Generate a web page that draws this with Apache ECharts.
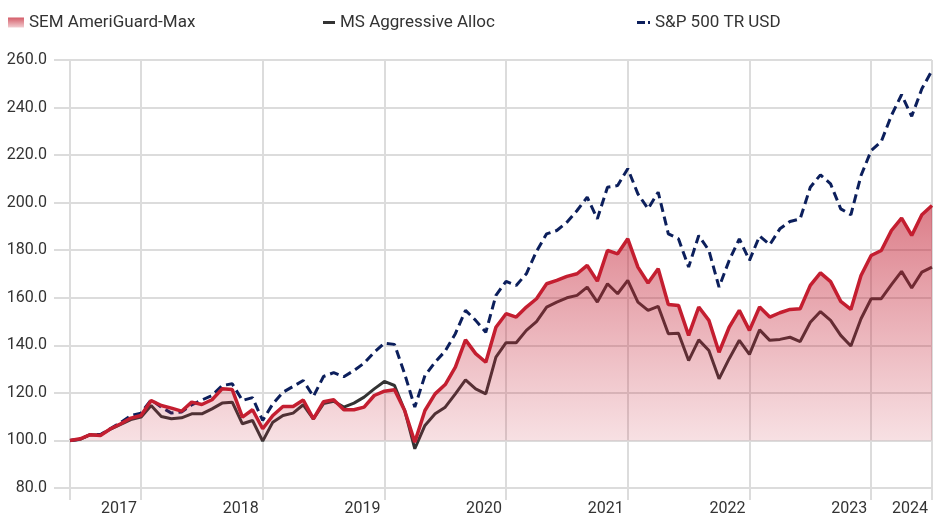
<!DOCTYPE html>
<html>
<head>
<meta charset="utf-8">
<script src="https://cdn.jsdelivr.net/npm/echarts@6/dist/echarts.min.js"></script>
<style>
  html, body { margin: 0; padding: 0; background: #fff; }
  #chart { width: 939px; height: 518px; }
</style>
</head>
<body>
<div id="chart"></div>
<script>
// monthly points, May 2017 .. Jun 2024 (growth of 100)
const startYear = 2017
const startMonth = 5
const semValues = [
  100, 100.7, 102.4, 102.1, 104.9, 107, 109.4, 110.5, 116.8, 114.7,
  113.6, 112.3, 116.1, 115.1, 117.1, 121.7, 121.4, 109.8, 112.9, 104.9,
  110.5, 114.3, 114.3, 117, 109.1, 116.3, 117.1, 112.9, 112.9, 114,
  118.9, 120.7, 121.3, 112.6, 99.3, 112.6, 119.6, 123.5, 130.8, 142.3,
  136.5, 132.9, 147.6, 153.3, 151.9, 156.1, 159.6, 165.9, 167.3, 169,
  170.1, 173.6, 167, 179.9, 178.5, 184.8, 172.9, 166.2, 172.2, 157.2,
  156.8, 144.2, 156.1, 150.5, 137.1, 147.6, 154.7, 146.3, 156.1, 151.9,
  153.7, 155.1, 155.4, 165.2, 170.5, 166.8, 158.5, 155.1, 169.4, 177.8,
  179.9, 188.3, 193.5, 186.2, 194.9, 198.8
]
const msValues = [
  100, 100.5, 102.4, 102.3, 104.8, 106.8, 108.8, 109.8, 114.7, 110.1,
  109.1, 109.5, 111.2, 111.2, 113.3, 115.7, 116.1, 107, 108.4, 99.7,
  107.7, 110.5, 111.5, 115, 109, 115.5, 116.5, 114, 115.7, 118.2,
  121.7, 124.8, 123.1, 112.6, 96.5, 106.3, 111.2, 114, 119.6, 125.5,
  121.7, 119.6, 135, 141.1, 141.1, 146.3, 150, 156.1, 158.2, 160,
  161, 164.5, 158.2, 165.9, 161.7, 167.3, 158.2, 154.7, 156.4, 144.9,
  145.1, 133.6, 142.3, 137.8, 125.9, 134.4, 142.1, 136.2, 146.5, 142.1,
  142.5, 143.4, 141.6, 149.7, 154.2, 150.5, 144.2, 139.7, 151.2, 159.6,
  159.6, 165.5, 171.1, 164.1, 170.8, 172.9
]
const spValues = [
  100, 100.5, 102.5, 102.5, 105, 107.5, 110.5, 111.5, 117.1, 114,
  111.5, 112, 115, 117, 118.9, 123.1, 123.8, 116.8, 118, 108.4,
  115.4, 120.3, 122.7, 125.2, 118.5, 126.9, 128.5, 126.8, 129.4, 132.5,
  137.1, 140.9, 140.4, 128, 114, 127.3, 132.9, 137.6, 144.9, 154.7,
  150.5, 145.5, 161, 166.9, 165.2, 170.1, 179.5, 186.9, 188.3, 191.8,
  196.7, 202.3, 193.2, 206.5, 207.2, 214.3, 203.7, 197.4, 204.4, 186.9,
  184.8, 172.9, 186.2, 179.9, 164.5, 175.7, 184.8, 175.7, 186, 182.3,
  189, 192.1, 193.2, 206.5, 211.7, 207.9, 197.4, 194.9, 211.4, 221.9,
  225.7, 236.7, 245.4, 236.3, 247.9, 255.6
]
const seriesNames = ['SEM AmeriGuard-Max', 'MS Aggressive Alloc', 'S&P 500 TR USD']
const yTicks = { min: 80, max: 260, step: 20 }

const months = semValues.map((v, i) => {
  const m = startMonth - 1 + i
  return (startYear + Math.floor(m / 12)) + '-' + String(m % 12 + 1).padStart(2, '0')
})
const lastIdx = months.length - 1
// year boundaries (December), plus first and last point
const isYearMark = (i) => i === 0 || i === lastIdx || months[i].slice(5) === '12'

const font = 'Roboto, "Liberation Sans", sans-serif'
const gridGray = '#dcdcdc'

const chart = echarts.init(document.getElementById('chart'))
chart.setOption({
  animation: false,
  backgroundColor: '#fff',
  textStyle: { fontFamily: font },
  legend: [
    {
      left: 8, top: 14, padding: 0, itemWidth: 16, itemHeight: 10,
      textStyle: { fontSize: 17, color: '#333', fontFamily: font },
      data: [{
        name: seriesNames[0], icon: 'rect',
        itemStyle: { color: new echarts.graphic.LinearGradient(0, 0, 0, 1, [
          { offset: 0, color: '#d45c68' }, { offset: 1, color: '#f2cdd1' }]) }
      }]
    },
    {
      left: 323, top: 14, padding: 0, itemWidth: 12, itemHeight: 3,
      textStyle: { fontSize: 17, color: '#333', fontFamily: font },
      data: [{ name: seriesNames[1], icon: 'rect', itemStyle: { color: '#333' } }]
    },
    {
      left: 637, top: 14, padding: 0, itemWidth: 13, itemHeight: 3,
      textStyle: { fontSize: 17, color: '#333', fontFamily: font },
      data: [{ name: seriesNames[2], icon: 'path://M0,0H8V3H0ZM11,0H13V3H11Z', itemStyle: { color: '#0c1f5c' } }]
    }
  ],
  grid: [
    { left: 54, right: 7, top: 60, bottom: 30 },
    { left: 70, right: 7, top: 60, bottom: 30 }
  ],
  xAxis: [
    { gridIndex: 0, type: 'value', show: false, min: 0, max: 1 },
    {
      gridIndex: 1, type: 'category', data: months, boundaryGap: false,
      axisLine: { show: false },
      axisTick: { show: true, length: 12, interval: isYearMark, lineStyle: { color: gridGray, width: 2 } },
      splitLine: { show: true, interval: isYearMark, lineStyle: { color: gridGray, width: 2 } },
      axisLabel: {
        interval: (i) => i === lastIdx || months[i].slice(5) === '12',
        formatter: (v) => v.slice(0, 4),
        align: 'right', padding: [0, 4, 0, 0], margin: 13,
        fontSize: 16, color: '#333', fontFamily: font
      }
    }
  ],
  yAxis: [
    {
      gridIndex: 0, type: 'value', min: yTicks.min, max: yTicks.max, interval: yTicks.step,
      axisLine: { show: false }, axisTick: { show: false },
      splitLine: { lineStyle: { color: gridGray, width: 2 } },
      axisLabel: { formatter: (v) => v.toFixed(1), fontSize: 16, color: '#333', margin: 7, fontFamily: font }
    },
    { gridIndex: 1, type: 'value', min: yTicks.min, max: yTicks.max, interval: yTicks.step, show: false, splitLine: { show: false } }
  ],
  series: [
    {
      name: seriesNames[1], type: 'line', xAxisIndex: 1, yAxisIndex: 1,
      data: msValues, symbol: 'none', z: 2,
      itemStyle: { color: '#333' },
      lineStyle: { color: '#333', width: 3 }
    },
    {
      name: seriesNames[2], type: 'line', xAxisIndex: 1, yAxisIndex: 1,
      data: spValues, symbol: 'none', z: 3,
      itemStyle: { color: '#0c1f5c' },
      lineStyle: { color: '#0c1f5c', width: 3, type: [9, 5] }
    },
    {
      name: seriesNames[0], type: 'line', xAxisIndex: 1, yAxisIndex: 1,
      data: semValues, symbol: 'none', z: 4,
      itemStyle: { color: '#c41e30' },
      lineStyle: { color: '#c41e30', width: 3.5 },
      areaStyle: {
        origin: 100,
        color: new echarts.graphic.LinearGradient(0, 0, 0, 1, [
          { offset: 0, color: 'rgba(192,24,44,0.8)' },
          { offset: 1, color: 'rgba(200,40,60,0.2)' }
        ])
      }
    }
  ]
})
</script>
</body>
</html>
